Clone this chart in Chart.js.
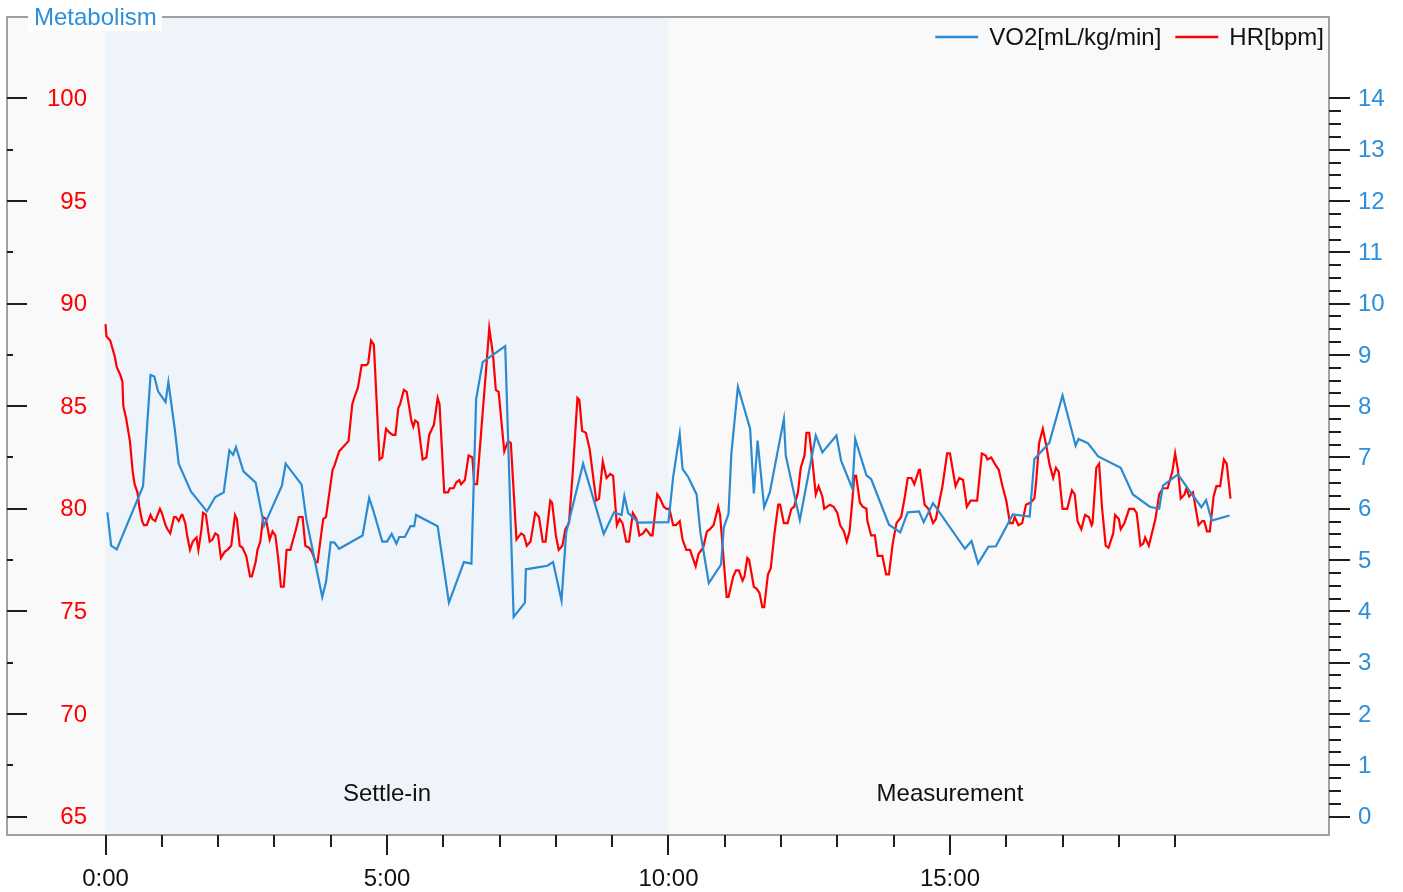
<!DOCTYPE html>
<html>
<head>
<meta charset="utf-8">
<title>Metabolism</title>
<script src="https://cdn.jsdelivr.net/npm/chart.js@4.4.1/dist/chart.umd.min.js"></script>
<style>
  html, body { margin: 0; padding: 0; background: #ffffff; }
  #wrap { width: 1403px; height: 892px; }
</style>
</head>
<body>
<div id="wrap"><canvas id="c" width="1403" height="892"></canvas></div>
<script>
// ---- Data ---------------------------------------------------------------
// Heart rate samples: elapsed seconds and beats per minute
const hrSeconds = [0,1,5,10,12,16,18,19,22,26,29,31,34,36,39,41,44,48,50,53,58,60,64,66,69,73,75,78,81,82,85,87,90,93,97,99,102,104,107,111,114,117,120,123,127,130,134,138,140,143,146,150,154,156,160,162,165,168,171,175,178,181,184,187,190,193,197,203,206,210,213,217,220,224,226,232,235,242,244,249,253,257,259,263,265,269,273,278,280,283,286,292,295,299,303,306,309,312,314,318,321,326,328,330,333,338,342,345,350,354,356,361,365,367,371,374,377,379,383,387,391,393,396,402,406,409,413,416,419,425,429,432,438,443,446,449,453,458,462,466,469,474,476,480,483,487,490,494,498,503,505,508,512,516,523,526,530,534,538,541,545,548,551,555,558,562,566,569,573,576,578,581,583,588,591,595,598,601,605,608,612,615,619,623,626,629,632,637,641,644,648,653,655,662,664,669,672,675,679,681,684,686,691,694,697,700,702,706,709,713,717,719,723,727,731,734,738,741,745,747,750,753,757,760,764,766,772,776,780,783,787,790,793,796,798,800,804,807,811,812,816,820,823,828,832,835,839,843,848,852,855,859,862,867,868,873,877,882,885,892,897,900,906,910,914,918,922,929,934,938,940,944,949,952,956,960,964,967,969,973,977,981,986,990,992,995,999,1003,1006,1010,1013,1016,1020,1025,1030,1033,1036,1040,1044,1048,1051,1052,1056,1059,1062,1066,1069,1074,1076,1080,1082,1086,1091,1096,1099,1103,1106,1108,1112,1119,1123,1127,1132,1137,1140,1143,1146,1150,1152,1155,1159,1162,1165,1169,1171,1174,1177,1181,1184,1188,1192,1195,1199];
const hrBpm = [89.0,88.4,88.2,87.4,86.9,86.5,86.2,85.0,84.4,83.3,81.8,81.2,80.8,80.1,79.4,79.2,79.2,79.7,79.5,79.4,80.0,79.8,79.2,79.0,78.8,79.6,79.6,79.4,79.7,79.7,79.3,78.7,78.0,78.4,78.6,78.0,78.9,79.8,79.7,78.4,78.5,78.8,78.7,77.6,77.9,78.0,78.2,79.7,79.5,78.2,78.1,77.7,76.7,76.7,77.4,78.0,78.4,79.6,79.5,78.5,78.9,78.7,77.6,76.2,76.2,78.0,78.0,79.0,79.6,79.6,78.2,78.1,77.9,77.4,77.4,79.5,79.6,81.9,82.1,82.8,83.0,83.2,83.3,85.1,85.4,85.9,87.0,87.0,87.1,88.2,88.0,82.4,82.5,83.9,83.7,83.6,83.6,84.9,85.1,85.8,85.7,84.3,84.0,84.3,84.2,82.4,82.5,83.6,84.1,85.4,85.1,80.8,80.8,81.0,81.0,81.3,81.4,81.2,81.4,82.6,82.5,81.2,81.2,84.7,87.0,88.8,87.5,85.8,85.7,82.8,83.3,83.2,78.5,78.8,78.7,78.2,78.4,79.8,79.6,78.4,78.4,80.4,80.3,78.7,78.0,78.2,79.0,79.3,81.8,85.4,85.3,83.8,83.7,82.9,80.4,80.5,82.3,81.5,81.7,81.6,79.2,79.5,79.3,78.4,78.4,79.8,79.5,78.7,78.8,79.0,78.9,78.7,78.7,80.7,80.5,80.1,80.0,80.0,79.2,79.2,79.4,78.5,78.0,78.0,77.6,77.2,77.8,78.1,78.9,79.0,79.2,80.1,79.7,75.7,75.7,76.7,77.0,77.0,76.5,76.7,77.6,77.5,76.2,76.1,75.9,75.2,75.2,76.8,77.1,78.8,80.2,80.2,79.3,79.3,80.0,80.1,80.8,82.0,82.6,83.7,83.7,82.5,80.7,81.1,80.6,80.0,80.2,80.1,79.8,79.2,78.9,78.4,78.9,80.4,81.6,81.6,80.3,80.1,80.0,79.4,78.7,78.7,77.7,77.7,76.8,76.8,78.3,79.3,79.6,80.6,81.5,81.5,81.2,81.9,81.9,80.2,80.0,79.3,79.5,81.1,82.7,82.7,81.1,81.5,81.4,80.1,80.4,80.4,82.7,82.6,82.4,82.5,82.1,81.9,81.1,80.4,79.3,79.3,79.6,79.2,79.3,80.2,80.3,80.5,81.4,83.2,83.9,83.0,82.2,81.5,82.0,81.8,80.0,80.0,80.9,80.7,79.4,79.0,79.7,79.6,79.2,79.3,82.0,82.2,80.1,78.2,78.1,78.8,79.7,79.5,79.0,79.3,80.0,80.0,79.8,78.2,78.3,78.6,78.2,79.5,80.7,81.0,81.0,81.8,82.7,81.9,80.5,80.7,81.0,80.6,80.8,80.0,79.2,79.4,79.4,78.9,78.9,80.6,81.1,81.1,82.4,82.2,80.5];

// Oxygen uptake samples: elapsed seconds and mL/kg/min
const vo2Seconds = [2,6,12,40,48,52,56,64,67,74,78,91,108,117,126,132,136,139,147,160,169,188,192,209,214,231,235,240,244,249,274,281,285,295,300,305,310,313,319,325,329,331,354,366,382,390,395,402,426,435,447,448,471,477,486,491,509,531,542,550,553,557,568,600,605,612,615,621,630,634,643,656,659,664,667,674,687,691,695,702,708,723,725,740,757,764,779,784,796,799,811,816,835,847,855,867,872,882,916,923,930,941,949,967,985,990,1006,1020,1034,1037,1047,1058,1082,1095,1113,1123,1127,1143,1155,1168,1173,1179,1198];
const vo2Values = [5.93,5.28,5.21,6.44,8.61,8.58,8.29,8.08,8.47,7.53,6.88,6.34,5.95,6.23,6.32,7.14,7.05,7.20,6.73,6.51,5.67,6.45,6.88,6.47,5.80,4.28,4.57,5.35,5.34,5.22,5.48,6.21,5.99,5.36,5.36,5.51,5.32,5.45,5.45,5.66,5.66,5.88,5.66,4.17,4.96,4.93,8.14,8.86,9.17,3.89,4.17,4.82,4.89,4.96,4.21,5.54,6.88,5.51,5.93,5.88,6.25,5.92,5.73,5.74,6.62,7.46,6.78,6.62,6.28,5.54,4.55,4.91,5.64,5.90,7.07,8.38,7.56,6.30,7.33,6.03,6.32,7.75,7.04,5.78,7.43,7.10,7.43,6.94,6.39,7.36,6.65,6.58,5.69,5.54,5.93,5.95,5.74,6.11,5.22,5.37,4.93,5.26,5.27,5.89,5.85,6.97,7.29,8.21,7.23,7.36,7.28,7.02,6.80,6.28,6.04,6.00,6.45,6.67,6.36,6.03,6.17,5.77,5.87];

// Axis ticks and labels
const hrTickValues = [65, 70, 75, 80, 85, 90, 95, 100];
const vo2TickValues = [0, 1, 2, 3, 4, 5, 6, 7, 8, 9, 10, 11, 12, 13, 14];
const timeTickMinutes = [0, 5, 10, 15];
const timeTickLabels = ['0:00', '5:00', '10:00', '15:00'];
const minuteTickCount = 20;

// Protocol phases (seconds)
const phaseNames = ['Settle-in', 'Measurement'];
const phaseStarts = [0, 600];
const phaseEnds = [600, 1200];

// ---- Styling ------------------------------------------------------------
const FONT = '"Liberation Sans", Arial, Helvetica, sans-serif';
const TEXT_SIZE = '24px ';
const BLUE = '#2B8AD0';
const BLUE_TEXT = '#2B8FDB';
const RED = '#FF0000';
const TICK = '#1E1E1E';

const hrPoints = hrSeconds.map((t, i) => ({ x: t, y: hrBpm[i] }));
const vo2Points = vo2Seconds.map((t, i) => ({ x: t, y: vo2Values[i] }));

// The HR axis and the VO2 axis share one pixel mapping: HR = 65 + 2.5 * VO2
const HR_MIN = 64.1, HR_MAX = 103.97;
const VO2_MIN = (HR_MIN - 65) / 2.5, VO2_MAX = (HR_MAX - 65) / 2.5;

const decorations = {
  id: 'decorations',
  beforeDatasetsDraw(chart) {
    const { ctx, chartArea: a, scales } = chart;
    const x = scales.x;
    ctx.save();
    ctx.fillStyle = '#F9F9F9';
    ctx.fillRect(a.left, a.top, a.width, a.height);
    const s0 = x.getPixelForValue(phaseStarts[0]);
    const s1 = x.getPixelForValue(phaseEnds[0]);
    ctx.fillStyle = '#EFF4FB';
    ctx.fillRect(s0, a.top, s1 - s0, a.height);

    ctx.font = TEXT_SIZE + FONT;
    ctx.fillStyle = '#111111';
    ctx.textAlign = 'center';
    ctx.textBaseline = 'middle';
    phaseNames.forEach((name, i) => {
      const mid = x.getPixelForValue((phaseStarts[i] + phaseEnds[i]) / 2);
      ctx.fillText(name, mid, a.bottom - 41);
    });
    ctx.restore();
  },
  afterDraw(chart) {
    const { ctx, chartArea: a, scales } = chart;
    const x = scales.x, yL = scales.yHR, yR = scales.yVO2;
    ctx.save();

    // frame
    ctx.strokeStyle = '#A0A0A0';
    ctx.lineWidth = 2;
    ctx.strokeRect(a.left, a.top, a.width, a.height);

    ctx.strokeStyle = TICK;
    ctx.lineWidth = 2;
    ctx.beginPath();
    // time ticks, one per minute
    for (let m = 0; m < minuteTickCount; m++) {
      const px = Math.round(x.getPixelForValue(m * 60));
      const len = m % 5 === 0 ? 20 : 12;
      ctx.moveTo(px, a.bottom);
      ctx.lineTo(px, a.bottom + len);
    }
    // HR ticks (inside the frame)
    for (let v = 65; v <= 100; v += 2.5) {
      const py = Math.round(yL.getPixelForValue(v));
      const len = v % 5 === 0 ? 20 : 6;
      ctx.moveTo(a.left, py);
      ctx.lineTo(a.left + len, py);
    }
    // VO2 ticks (outside the frame)
    for (let v = 0; v <= 14; v += 0.25) {
      const py = Math.round(yR.getPixelForValue(v));
      const len = Number.isInteger(v) ? 21 : 12;
      ctx.moveTo(a.right, py);
      ctx.lineTo(a.right + len, py);
    }
    ctx.stroke();

    ctx.font = TEXT_SIZE + FONT;
    ctx.textBaseline = 'middle';

    ctx.fillStyle = RED;
    ctx.textAlign = 'right';
    hrTickValues.forEach(v => ctx.fillText(String(v), a.left + 80, yL.getPixelForValue(v) + 1));

    ctx.fillStyle = BLUE_TEXT;
    ctx.textAlign = 'left';
    vo2TickValues.forEach(v => ctx.fillText(String(v), a.right + 29, yR.getPixelForValue(v) + 1));

    ctx.fillStyle = '#111111';
    ctx.textAlign = 'center';
    timeTickMinutes.forEach((m, i) => ctx.fillText(timeTickLabels[i], x.getPixelForValue(m * 60), a.bottom + 44));

    // title on the frame
    ctx.fillStyle = '#FFFFFF';
    ctx.fillRect(a.left + 21, a.top - 12, 134, 26);
    ctx.fillStyle = BLUE_TEXT;
    ctx.textAlign = 'left';
    ctx.textBaseline = 'alphabetic';
    ctx.fillText('Metabolism', a.left + 27, a.top + 8);

    // legend, laid out from the right edge
    const ds = chart.data.datasets;
    const ly = a.top + 20;
    ctx.textBaseline = 'middle';
    let cursor = a.right - 5;
    const items = [ds[1], ds[0]];
    items.forEach(d => {
      const w = ctx.measureText(d.label).width;
      const tx = cursor - w;
      ctx.fillStyle = '#111111';
      ctx.fillText(d.label, tx, ly + 1);
      ctx.strokeStyle = d.borderColor;
      ctx.lineWidth = 2.4;
      ctx.beginPath();
      ctx.moveTo(tx - 54, ly);
      ctx.lineTo(tx - 11, ly);
      ctx.stroke();
      cursor = tx - 54 - 14;
    });
    ctx.restore();
  }
};

new Chart(document.getElementById('c'), {
  type: 'line',
  data: {
    datasets: [
      {
        label: 'VO2[mL/kg/min]',
        data: vo2Points,
        yAxisID: 'yVO2',
        borderColor: BLUE,
        borderWidth: 2.2,
        pointRadius: 0,
        tension: 0,
        fill: false
      },
      {
        label: 'HR[bpm]',
        data: hrPoints,
        yAxisID: 'yHR',
        borderColor: RED,
        borderWidth: 2.2,
        pointRadius: 0,
        tension: 0,
        fill: false
      }
    ]
  },
  options: {
    responsive: false,
    animation: false,
    devicePixelRatio: 1,
    layout: { padding: { left: 7, top: 17, right: 74, bottom: 57 } },
    plugins: {
      legend: { display: false },
      tooltip: { enabled: false },
      title: { display: false }
    },
    scales: {
      x: { type: 'linear', min: -105, max: 1304, display: false },
      yHR: { type: 'linear', position: 'left', min: HR_MIN, max: HR_MAX, display: false },
      yVO2: { type: 'linear', position: 'right', min: VO2_MIN, max: VO2_MAX, display: false }
    }
  },
  plugins: [decorations]
});
</script>
</body>
</html>
